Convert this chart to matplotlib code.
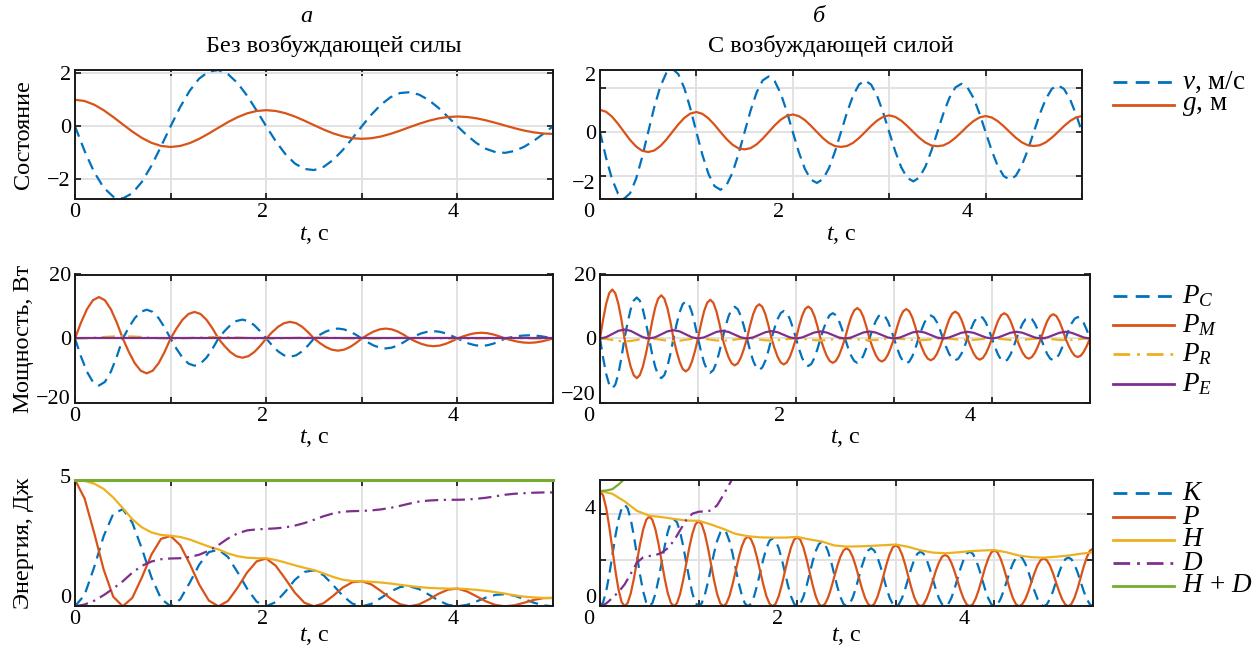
import matplotlib
matplotlib.use('Agg')
import matplotlib.pyplot as plt
from matplotlib.lines import Line2D
from matplotlib.transforms import ScaledTranslation
import numpy as np

plt.rcParams['font.family'] = ['Liberation Serif', 'DejaVu Serif']
plt.rcParams['mathtext.fontset'] = 'custom'
plt.rcParams['mathtext.rm'] = 'Liberation Serif'
plt.rcParams['mathtext.it'] = 'Liberation Serif:italic'
plt.rcParams['mathtext.bf'] = 'Liberation Serif:bold'
plt.rcParams['axes.unicode_minus'] = True

# ---------------- data: column "а" (no driving force) ----------------
t_a = np.linspace(0, 5, 51)          # 0.1 s step
t_a_pow = np.linspace(0, 5, 81)      # 0.0625 s step

v_a = [0, -0.928, -1.722, -2.311, -2.651, -2.718, -2.521, -2.092, -1.482, -0.760,
       0, 0.723, 1.341, 1.800, 2.064, 2.117, 1.964, 1.629, 1.154, 0.592,
       0, -0.563, -1.045, -1.402, -1.607, -1.649, -1.529, -1.269, -0.899, -0.461,
       0, 0.438, 0.814, 1.092, 1.252, 1.284, 1.191, 0.988, 0.700, 0.359,
       0, -0.341, -0.634, -0.850, -0.975, -1.000, -0.927, -0.769, -0.545, -0.280, 0]
g_a = [1.000, 0.952, 0.814, 0.605, 0.348, 0.071, -0.200, -0.439, -0.624, -0.740,
       -0.779, -0.741, -0.634, -0.471, -0.271, -0.055, 0.156, 0.342, 0.486, 0.576,
       0.607, 0.577, 0.494, 0.367, 0.211, 0.043, -0.122, -0.266, -0.378, -0.449,
       -0.472, -0.450, -0.385, -0.286, -0.165, -0.033, 0.095, 0.207, 0.295, 0.349,
       0.368, 0.350, 0.300, 0.223, 0.128, 0.026, -0.074, -0.162, -0.230, -0.272, -0.287]

PC_a = [0, -5.63, -10.39, -13.58, -14.7, -13.58, -10.39, -5.63,
        0, 3.44, 6.36, 8.32, 9.0, 8.32, 6.36, 3.44,
        0, -3.25, -6.01, -7.85, -8.5, -7.85, -6.01, -3.25,
        0, 2.26, 4.17, 5.45, 5.9, 5.45, 4.17, 2.26,
        0, -2.18, -4.03, -5.27, -5.7, -5.27, -4.03, -2.18,
        0, 1.19, 2.19, 2.86, 3.1, 2.86, 2.19, 1.19,
        0, -1.19, -2.19, -2.86, -3.1, -2.86, -2.19, -1.19,
        0, 0.88, 1.63, 2.12, 2.3, 2.12, 1.63, 0.88,
        0, -0.88, -1.63, -2.12, -2.3, -2.12, -1.63, -0.88,
        0, 0.38, 0.71, 0.92, 1.0, 0.92, 0.71, 0.38, 0]
PM_a = [0, 4.96, 9.16, 11.96, 12.95, 11.96, 9.16, 4.96,
        0, -4.17, -7.71, -10.07, -10.9, -10.07, -7.71, -4.17,
        0, 3.18, 5.87, 7.67, 8.3, 7.67, 5.87, 3.18,
        0, -2.30, -4.24, -5.54, -6.0, -5.54, -4.24, -2.30,
        0, 1.99, 3.68, 4.80, 5.2, 4.80, 3.68, 1.99,
        0, -1.45, -2.69, -3.51, -3.8, -3.51, -2.69, -1.45,
        0, 1.19, 2.19, 2.86, 3.1, 2.86, 2.19, 1.19,
        0, -0.92, -1.70, -2.22, -2.4, -2.22, -1.70, -0.92,
        0, 0.69, 1.27, 1.66, 1.8, 1.66, 1.27, 0.69,
        0, -0.52, -0.95, -1.25, -1.35, -1.25, -0.95, -0.52, 0]
PR_a = [0, 0.07, 0.24, 0.46, 0.63, 0.70, 0.63, 0.46, 0.24, 0.07,
        0, 0.04, 0.16, 0.29, 0.41, 0.45, 0.41, 0.29, 0.16, 0.04,
        0, 0.03, 0.10, 0.20, 0.27, 0.30, 0.27, 0.20, 0.10, 0.03,
        0, 0.02, 0.07, 0.13, 0.18, 0.20, 0.18, 0.13, 0.07, 0.02,
        0, 0.01, 0.04, 0.08, 0.11, 0.12, 0.11, 0.08, 0.04, 0.01, 0]
t_pe_a = [0, 5]
PE_a = [0, 0]

K_a = [0, 0.448, 1.541, 2.775, 3.654, 3.840, 3.301, 2.271, 1.140, 0.300,
       0, 0.271, 0.933, 1.650, 2.140, 2.240, 1.950, 1.350, 0.698, 0.184,
       0, 0.167, 0.577, 1.047, 1.360, 1.420, 1.230, 0.838, 0.418, 0.109,
       0, 0.096, 0.328, 0.583, 0.760, 0.790, 0.678, 0.465, 0.235, 0.062,
       0, 0.056, 0.193, 0.347, 0.452, 0.480, 0.416, 0.281, 0.142, 0.037, 0]
P_a = [5.000, 4.265, 2.910, 1.449, 0.378, 0, 0.336, 1.145, 2.046, 2.666,
       2.780, 2.419, 1.684, 0.855, 0.227, 0, 0.211, 0.733, 1.336, 1.776,
       1.890, 1.602, 1.086, 0.537, 0.139, 0, 0.122, 0.414, 0.736, 0.952,
       0.990, 0.865, 0.605, 0.308, 0.082, 0, 0.077, 0.268, 0.491, 0.656,
       0.700, 0.588, 0.395, 0.193, 0.050, 0, 0.043, 0.143, 0.252, 0.323, 0.330]
H_a = [5.00, 4.96, 4.85, 4.64, 4.30, 3.88, 3.44, 3.12, 2.92, 2.82,
       2.79, 2.74, 2.64, 2.50, 2.36, 2.25, 2.09, 1.98, 1.92, 1.90,
       1.90, 1.83, 1.73, 1.62, 1.52, 1.43, 1.30, 1.16, 1.05, 1.00,
       0.99, 0.97, 0.94, 0.90, 0.85, 0.80, 0.76, 0.73, 0.71, 0.70,
       0.70, 0.68, 0.65, 0.61, 0.56, 0.50, 0.43, 0.38, 0.35, 0.33, 0.33]
D_a = [0.00, 0.07, 0.22, 0.44, 0.70, 0.99, 1.33, 1.60, 1.77, 1.86,
       1.89, 1.90, 1.95, 2.04, 2.20, 2.42, 2.68, 2.88, 3.00, 3.04,
       3.06, 3.08, 3.12, 3.19, 3.29, 3.42, 3.56, 3.67, 3.74, 3.76,
       3.77, 3.79, 3.83, 3.89, 3.97, 4.06, 4.14, 4.18, 4.20, 4.21,
       4.21, 4.22, 4.25, 4.29, 4.35, 4.41, 4.45, 4.47, 4.49, 4.50, 4.50]
t_hd_a = [0, 5]
HD_a = [5.0, 5.0]

# ---------------- data: column "б" (with driving force) ----------------
t_b = np.linspace(0, 5, 81)          # 0.0625 s step
t_b2 = np.linspace(0, 5, 161)        # 0.03125 s step

v_b = [0, -1.148, -2.121, -2.772, -3.000, -2.754, -2.095, -1.127,
       0, 1.112, 2.042, 2.651, 2.850, 2.604, 1.971, 1.055,
       0, -1.031, -1.883, -2.431, -2.600, -2.391, -1.821, -0.981,
       0, 0.971, 1.785, 2.322, 2.500, 2.286, 1.731, 0.927,
       0, -0.907, -1.657, -2.140, -2.290, -2.119, -1.625, -0.881,
       0, 0.884, 1.636, 2.140, 2.320, 2.132, 1.623, 0.874,
       0, -0.864, -1.587, -2.063, -2.220, -2.046, -1.561, -0.842,
       0, 0.838, 1.544, 2.010, 2.170, 2.001, 1.529, 0.826,
       0, -0.823, -1.519, -1.981, -2.140, -1.973, -1.506, -0.813,
       0, 0.809, 1.492, 1.945, 2.100, 1.940, 1.485, 0.804, 0]
g_b = [1.000, 0.912, 0.689, 0.368, 0, -0.359, -0.654, -0.843,
       -0.900, -0.832, -0.636, -0.344, 0, 0.344, 0.636, 0.832,
       0.900, 0.818, 0.615, 0.327, 0, -0.316, -0.573, -0.734,
       -0.780, -0.725, -0.555, -0.300, 0, 0.300, 0.555, 0.725,
       0.790, 0.716, 0.537, 0.285, 0, -0.274, -0.495, -0.633,
       -0.670, -0.628, -0.488, -0.268, 0, 0.276, 0.516, 0.684,
       0.750, 0.680, 0.511, 0.271, 0, -0.261, -0.472, -0.604,
       -0.640, -0.601, -0.467, -0.256, 0, 0.264, 0.495, 0.656,
       0.720, 0.655, 0.494, 0.263, 0, -0.254, -0.462, -0.592,
       -0.630, -0.592, -0.462, -0.254, 0, 0.263, 0.494, 0.655, 0.720]

PC_b = [0, -5.97, -11.03, -14.41, -15.6, -14.41, -11.03, -5.97,
        0, 4.90, 9.05, 11.83, 12.8, 11.83, 9.05, 4.90,
        0, -4.75, -8.77, -11.46, -12.4, -11.46, -8.77, -4.75,
        0, 4.44, 8.20, 10.72, 11.6, 10.72, 8.20, 4.44,
        0, -4.09, -7.57, -9.89, -10.7, -9.89, -7.57, -4.09,
        0, 3.79, 7.00, 9.15, 9.9, 9.15, 7.00, 3.79,
        0, -3.75, -6.93, -9.05, -9.8, -9.05, -6.93, -3.75,
        0, 3.29, 6.08, 7.95, 8.6, 7.95, 6.08, 3.29,
        0, -3.29, -6.08, -7.95, -8.6, -7.95, -6.08, -3.29,
        0, 3.02, 5.59, 7.30, 7.9, 7.30, 5.59, 3.02,
        0, -2.91, -5.37, -7.02, -7.6, -7.02, -5.37, -2.91,
        0, 2.91, 5.37, 7.02, 7.6, 7.02, 5.37, 2.91,
        0, -2.99, -5.52, -7.21, -7.8, -7.21, -5.52, -2.99,
        0, 2.76, 5.09, 6.65, 7.2, 6.65, 5.09, 2.76,
        0, -2.60, -4.81, -6.28, -6.8, -6.28, -4.81, -2.60,
        0, 2.68, 4.95, 6.47, 7.0, 6.47, 4.95, 2.68,
        0, -2.76, -5.09, -6.65, -7.2, -6.65, -5.09, -2.76,
        0, 2.53, 4.67, 6.10, 6.6, 6.10, 4.67, 2.53,
        0, -2.60, -4.81, -6.28, -6.8, -6.28, -4.81, -2.60,
        0, 2.56, 4.74, 6.19, 6.7, 6.19, 4.74, 2.56, 0]
PM_b = [0, 5.86, 10.82, 14.14, 15.3, 14.14, 10.82, 5.86,
        0, -4.75, -8.77, -11.46, -12.4, -11.46, -8.77, -4.75,
        0, 5.17, 9.55, 12.47, 13.5, 12.47, 9.55, 5.17,
        0, -3.94, -7.28, -9.52, -10.3, -9.52, -7.28, -3.94,
        0, 4.63, 8.56, 11.18, 12.1, 11.18, 8.56, 4.63,
        0, -3.21, -5.94, -7.76, -8.4, -7.76, -5.94, -3.21,
        0, 4.09, 7.57, 9.89, 10.7, 9.89, 7.57, 4.09,
        0, -3.10, -5.73, -7.48, -8.1, -7.48, -5.73, -3.10,
        0, 3.83, 7.07, 9.24, 10.0, 9.24, 7.07, 3.83,
        0, -2.91, -5.37, -7.02, -7.6, -7.02, -5.37, -2.91,
        0, 3.64, 6.72, 8.78, 9.5, 8.78, 6.72, 3.64,
        0, -2.76, -5.09, -6.65, -7.2, -6.65, -5.09, -2.76,
        0, 3.52, 6.51, 8.50, 9.2, 8.50, 6.51, 3.52,
        0, -2.60, -4.81, -6.28, -6.8, -6.28, -4.81, -2.60,
        0, 3.21, 5.94, 7.76, 8.4, 7.76, 5.94, 3.21,
        0, -2.53, -4.67, -6.10, -6.6, -6.10, -4.67, -2.53,
        0, 3.02, 5.59, 7.30, 7.9, 7.30, 5.59, 3.02,
        0, -2.41, -4.45, -5.82, -6.3, -5.82, -4.45, -2.41,
        0, 2.91, 5.37, 7.02, 7.6, 7.02, 5.37, 2.91,
        0, -2.22, -4.10, -5.36, -5.8, -5.36, -4.10, -2.22, 0]
PR_b = [0, -0.13, -0.45, -0.77, -0.90, -0.77, -0.45, -0.13,
        0, -0.12, -0.40, -0.68, -0.80, -0.68, -0.40, -0.12,
        0, -0.10, -0.35, -0.60, -0.70, -0.60, -0.35, -0.10,
        0, -0.10, -0.33, -0.55, -0.65, -0.55, -0.33, -0.10,
        0, -0.09, -0.30, -0.51, -0.60, -0.51, -0.30, -0.09,
        0, -0.08, -0.28, -0.47, -0.55, -0.47, -0.28, -0.08,
        0, -0.08, -0.28, -0.47, -0.55, -0.47, -0.28, -0.08,
        0, -0.07, -0.25, -0.43, -0.50, -0.43, -0.25, -0.07,
        0, -0.07, -0.25, -0.43, -0.50, -0.43, -0.25, -0.07,
        0, -0.07, -0.25, -0.43, -0.50, -0.43, -0.25, -0.07, 0]
PE_b = [0, 0.41, 1.40, 2.39, 2.80, 2.39, 1.40, 0.41,
        0, 0.38, 1.30, 2.22, 2.60, 2.22, 1.30, 0.38,
        0, 0.35, 1.20, 2.05, 2.40, 2.05, 1.20, 0.35,
        0, 0.34, 1.15, 1.96, 2.30, 1.96, 1.15, 0.34,
        0, 0.32, 1.10, 1.88, 2.20, 1.88, 1.10, 0.32,
        0, 0.32, 1.10, 1.88, 2.20, 1.88, 1.10, 0.32,
        0, 0.32, 1.10, 1.88, 2.20, 1.88, 1.10, 0.32,
        0, 0.31, 1.05, 1.79, 2.10, 1.79, 1.05, 0.31,
        0, 0.31, 1.05, 1.79, 2.10, 1.79, 1.05, 0.31,
        0, 0.31, 1.05, 1.79, 2.10, 1.79, 1.05, 0.31, 0]

K_b = [0, 0.17, 0.65, 1.36, 2.21, 3.05, 3.76, 4.24, 4.41, 4.24, 3.76, 3.05, 2.21, 1.36, 0.65, 0.17,
       0, 0.14, 0.55, 1.17, 1.89, 2.61, 3.23, 3.64, 3.78, 3.64, 3.23, 2.61, 1.89, 1.17, 0.55, 0.14,
       0, 0.13, 0.49, 1.02, 1.66, 2.30, 2.83, 3.19, 3.32, 3.19, 2.83, 2.30, 1.66, 1.02, 0.49, 0.13,
       0, 0.11, 0.43, 0.91, 1.48, 2.04, 2.52, 2.84, 2.95, 2.84, 2.52, 2.04, 1.48, 0.91, 0.43, 0.11,
       0, 0.11, 0.41, 0.86, 1.40, 1.94, 2.39, 2.69, 2.80, 2.69, 2.39, 1.94, 1.40, 0.86, 0.41, 0.11,
       0, 0.10, 0.37, 0.78, 1.26, 1.74, 2.15, 2.42, 2.52, 2.42, 2.15, 1.74, 1.26, 0.78, 0.37, 0.10,
       0, 0.09, 0.35, 0.73, 1.19, 1.64, 2.02, 2.28, 2.37, 2.28, 2.02, 1.64, 1.19, 0.73, 0.35, 0.09,
       0, 0.09, 0.35, 0.73, 1.19, 1.64, 2.02, 2.28, 2.37, 2.28, 2.02, 1.64, 1.19, 0.73, 0.35, 0.09,
       0, 0.08, 0.32, 0.67, 1.09, 1.51, 1.86, 2.10, 2.18, 2.10, 1.86, 1.51, 1.09, 0.67, 0.32, 0.08,
       0, 0.08, 0.31, 0.65, 1.06, 1.47, 1.81, 2.04, 2.12, 2.04, 1.81, 1.47, 1.06, 0.65, 0.31, 0.08,
       0]
P_b = [5.00, 4.81, 4.27, 3.46, 2.50, 1.54, 0.73, 0.19,
       0, 0.15, 0.57, 1.20, 1.95, 2.70, 3.33, 3.75, 3.90, 3.75, 3.33, 2.70, 1.95, 1.20, 0.57, 0.15,
       0, 0.14, 0.54, 1.14, 1.85, 2.56, 3.16, 3.56, 3.70, 3.56, 3.16, 2.56, 1.85, 1.14, 0.54, 0.14,
       0, 0.12, 0.44, 0.94, 1.52, 2.09, 2.59, 2.91, 3.03, 2.91, 2.59, 2.09, 1.52, 0.94, 0.44, 0.12,
       0, 0.11, 0.44, 0.93, 1.50, 2.07, 2.56, 2.89, 3.00, 2.89, 2.56, 2.07, 1.50, 0.93, 0.44, 0.11,
       0, 0.10, 0.37, 0.78, 1.26, 1.74, 2.15, 2.42, 2.52, 2.42, 2.15, 1.74, 1.26, 0.78, 0.37, 0.10,
       0, 0.10, 0.39, 0.82, 1.33, 1.83, 2.26, 2.55, 2.65, 2.55, 2.26, 1.83, 1.33, 0.82, 0.39, 0.10,
       0, 0.08, 0.33, 0.69, 1.12, 1.54, 1.90, 2.15, 2.23, 2.15, 1.90, 1.54, 1.12, 0.69, 0.33, 0.08,
       0, 0.09, 0.36, 0.75, 1.22, 1.68, 2.07, 2.34, 2.43, 2.34, 2.07, 1.68, 1.22, 0.75, 0.36, 0.09,
       0, 0.08, 0.30, 0.64, 1.04, 1.44, 1.78, 2.00, 2.08, 2.00, 1.78, 1.44, 1.04, 0.64, 0.30, 0.08,
       0, 0.10, 0.37, 0.77, 1.25, 1.73, 2.13, 2.41, 2.50]
t_h_b = np.linspace(0, 5, 41)        # 0.125 s step
H_b = [5.00, 4.88, 4.55, 4.14, 3.93, 3.87, 3.79, 3.72, 3.71, 3.55,
       3.36, 3.14, 3.04, 2.99, 2.98, 2.98, 3.01, 2.90, 2.81, 2.64,
       2.59, 2.60, 2.62, 2.65, 2.68, 2.58, 2.43, 2.33, 2.30, 2.34,
       2.39, 2.42, 2.44, 2.34, 2.20, 2.13, 2.11, 2.15, 2.20, 2.28, 2.34]
t_d_b = np.linspace(0, 1.4375, 24)   # 0.0625 s step
D_b = [0.00, 0.12, 0.36, 0.62, 0.95, 1.42, 1.90, 2.12, 2.18, 2.22,
       2.32, 2.52, 2.85, 3.30, 3.75, 4.02, 4.10, 4.12, 4.15, 4.38,
       4.82, 5.30, 5.78, 6.20]
t_hd_b = [0, 0.0625, 0.125, 0.1875, 0.25, 0.3125]
HD_b = [5.00, 5.02, 5.08, 5.28, 5.53, 5.78]

# ---------------- styling ----------------
BLUE, ORANGE, YELLOW, PURPLE, GREEN = '#0072BD', '#D95319', '#EDB120', '#7E2F8E', '#77AC30'
DASH = (5.0, 3.0)
DASHDOT = (6.0, 2.5, 1.0, 2.5)
LW = 1.6
FS_TICK = 16
FS_LAB = 17.5
FS_LEG = 19.5

W, H = 1255, 647
fig = plt.figure(figsize=(W / 100, H / 100), dpi=100)


def make_ax(x0, x1, y0, y1):
    return fig.add_axes([x0 / W, 1 - y1 / H, (x1 - x0) / W, (y1 - y0) / H])


def nudge(label, dx_px, dy_px):
    # move a tick label by a few pixels (dy positive = downwards)
    label.set_transform(label.get_transform() +
                        ScaledTranslation(dx_px / 100, -dy_px / 100, fig.dpi_scale_trans))


def style(ax, xmax, ylim, yticks, ylabels, xlabelpad, xdx=(0, 0, 0), ydy=None):
    ax.set_xlim(0, xmax)
    ax.set_ylim(*ylim)
    ax.set_xticks([0, 1, 2, 3, 4, 5])
    ax.set_xticklabels(['0', '', '2', '', '4', ''])
    ax.set_yticks(yticks)
    ax.set_yticklabels(ylabels)
    ax.grid(True, color='#E2E2E2', lw=1.4)
    ax.set_axisbelow(True)
    ax.tick_params(direction='in', length=4, width=1.1, top=True, right=True,
                   labelsize=FS_TICK, pad=3, colors='black')
    for s in ax.spines.values():
        s.set_linewidth(1.4)
        s.set_color('#1a1a1a')
    ax.set_xlabel('$t$, с', fontsize=FS_LAB, labelpad=xlabelpad)
    xt = ax.xaxis.get_major_ticks()
    for i, dx in zip([0, 2, 4], xdx):
        nudge(xt[i].label1, dx, 0)
    if ydy is not None:
        yt = ax.yaxis.get_major_ticks()
        for tk, dy in zip(yt, ydy):
            nudge(tk.label1, 0, dy)


# ----- row 1 -----
ax1 = make_ax(75, 553, 70, 198.5)
ax1.plot(t_a, v_a, color=BLUE, lw=LW, dashes=DASH)
ax1.plot(t_a, g_a, color=ORANGE, lw=LW)
style(ax1, 5, (-2.72, 2.12), [-2, 0, 2], ['−2', '0', '2'], 2, xdx=(0, -4, -4))

ax2 = make_ax(600, 1082, 70, 198.5)
ax2.plot(t_b, v_b, color=BLUE, lw=LW, dashes=DASH)
ax2.plot(t_b, g_b, color=ORANGE, lw=LW)
style(ax2, 4.97, (-2.99, 2.79), [-2, 0, 2], ['−2', '0', '2'], 2,
      xdx=(-11, -14, -18), ydy=(6, 0, -14))

# ----- row 2 -----
ax3 = make_ax(75, 553, 274.5, 402.5)
ax3.plot(t_a_pow, PC_a, color=BLUE, lw=LW, dashes=DASH)
ax3.plot(t_a_pow, PM_a, color=ORANGE, lw=LW)
ax3.plot(t_a, PR_a, color=YELLOW, lw=LW, dashes=DASHDOT)
ax3.plot(t_pe_a, PE_a, color=PURPLE, lw=LW)
style(ax3, 5, (-20, 20), [-20, 0, 20], ['−20', '0', '20'], 1,
      xdx=(0, -4, -4), ydy=(-5, 0, 0))

ax4 = make_ax(600, 1090, 274.5, 402.5)
ax4.plot(t_b2, PC_b, color=BLUE, lw=LW, dashes=DASH)
ax4.plot(t_b2, PM_b, color=ORANGE, lw=LW)
ax4.plot(t_b, PR_b, color=YELLOW, lw=LW, dashes=DASHDOT)
ax4.plot(t_b, PE_b, color=PURPLE, lw=LW)
style(ax4, 4.99, (-20, 20), [-20, 0, 20], ['−20', '0', '20'], 1,
      xdx=(-11, -16, -22), ydy=(-9, 0, 0))

# ----- row 3 -----
ax5 = make_ax(75, 553, 479.8, 606.3)
ax5.plot(t_a, K_a, color=BLUE, lw=LW, dashes=DASH)
ax5.plot(t_a, P_a, color=ORANGE, lw=LW)
ax5.plot(t_a, H_a, color=YELLOW, lw=LW)
ax5.plot(t_a, D_a, color=PURPLE, lw=LW, dashes=DASHDOT)
ax5.plot(t_hd_a, HD_a, color=GREEN, lw=LW + 0.6, clip_on=False, zorder=5)
style(ax5, 5, (0, 5), [0, 5], ['0', '5'], -3, xdx=(0, -4, -4), ydy=(-10, -4))

ax6 = make_ax(600, 1093, 479.5, 606.3)
ax6.plot(t_b2, K_b, color=BLUE, lw=LW, dashes=DASH)
ax6.plot(t_b2, P_b, color=ORANGE, lw=LW)
ax6.plot(t_h_b, H_b, color=YELLOW, lw=LW)
ax6.plot(t_d_b, D_b, color=PURPLE, lw=LW, dashes=DASHDOT)
ax6.plot(t_hd_b, HD_b, color=GREEN, lw=LW)
style(ax6, 4.9, (0, 5.5), [0, 2, 4], ['0', '', '4'], -3,
      xdx=(-11, -20, -30), ydy=(-10, 0, -7))

# ----- y labels -----
for ax, lab in [(ax1, 'Состояние'), (ax3, 'Мощность, Вт'), (ax5, 'Энергия, Дж')]:
    pos = ax.get_position()
    fig.text(24 / W, pos.y0 + pos.height / 2, lab, rotation=90, fontsize=FS_LAB,
             ha='center', va='center')

# ----- column headers -----
fig.text(306 / W, 1 - 16 / H, 'а', fontsize=FS_LAB, style='italic', ha='center', va='center')
fig.text(334 / W, 1 - 46 / H, 'Без возбуждающей силы', fontsize=FS_LAB, ha='center', va='center')
fig.text(819 / W, 1 - 16 / H, 'б', fontsize=FS_LAB, style='italic', ha='center', va='center')
fig.text(831 / W, 1 - 46 / H, 'С возбуждающей силой', fontsize=FS_LAB, ha='center', va='center')


# ----- legends -----
def legend(entries, ys):
    for (lab, col, dash), y in zip(entries, ys):
        ln = Line2D([1113 / W, 1174 / W], [1 - y / H, 1 - y / H], transform=fig.transFigure,
                    color=col, lw=LW + 0.4)
        if dash is not None:
            ln.set_dashes(dash)
        fig.add_artist(ln)
        fig.text(1182 / W, 1 - y / H, lab, fontsize=FS_LEG, ha='left', va='center')


legend([('$v$, м/с', BLUE, DASH), ('$g$, м', ORANGE, None)], [82, 105])
legend([('$P_C$', BLUE, DASH), ('$P_M$', ORANGE, None), ('$P_R$', YELLOW, DASHDOT),
        ('$P_E$', PURPLE, None)], [296, 325, 354, 384])
legend([('$K$', BLUE, DASH), ('$P$', ORANGE, None), ('$H$', YELLOW, None),
        ('$D$', PURPLE, DASHDOT), ('$H\\,+\\,D$', GREEN, None)], [493, 517, 540, 563, 586])

fig.savefig('out.png', dpi=100)
